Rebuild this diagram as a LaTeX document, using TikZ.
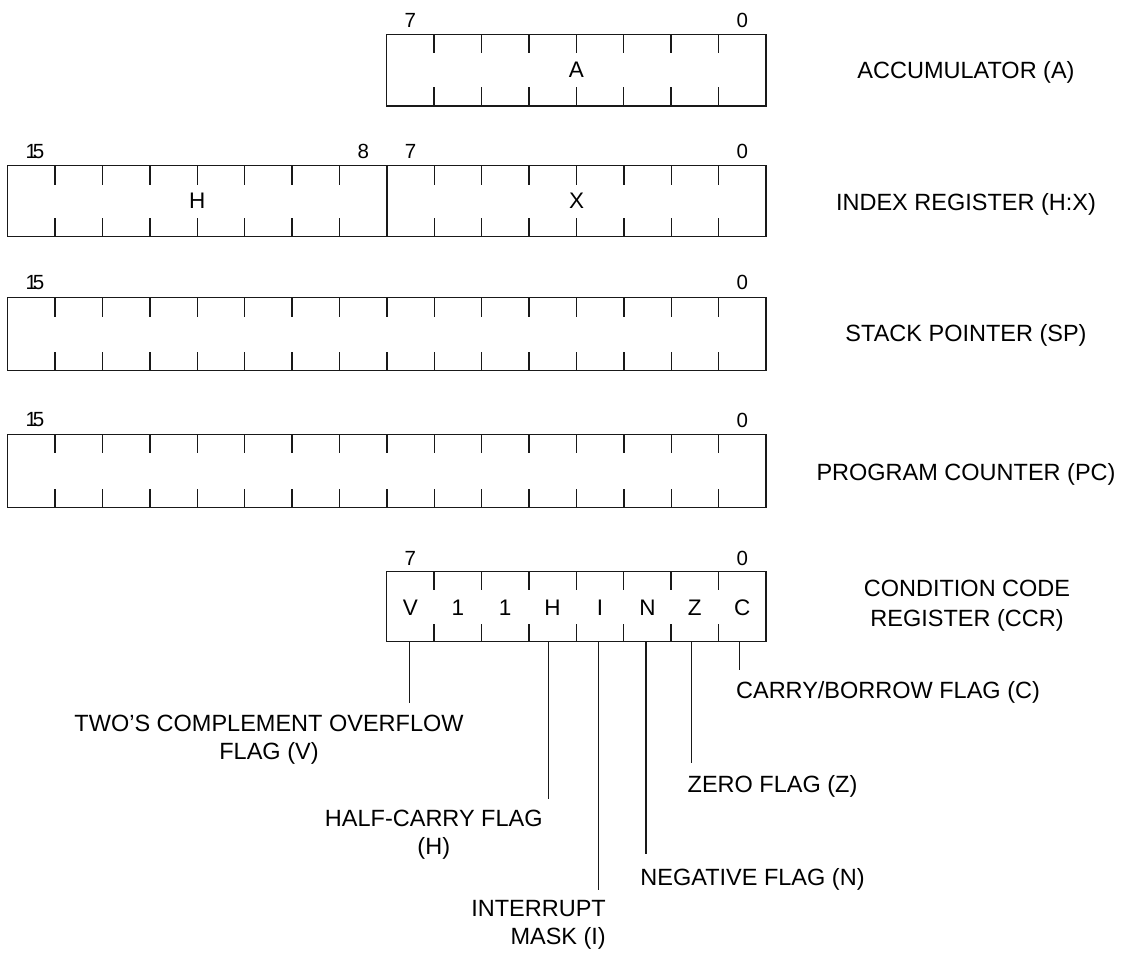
\documentclass[tikz,border=0pt]{standalone}
\usepackage{fontspec}
\setmainfont{Liberation Sans}
\begin{document}
\begin{tikzpicture}[x=1pt,y=-1pt,
  reg/.style={draw=black!90, line width=1.3pt, rectangle, inner sep=0pt, outer sep=0pt, anchor=north west},
  tickline/.style={draw=black!90, line width=1.3pt},
  bitnum/.style={font=\fontsize{20.5}{24}\selectfont, inner sep=0pt, text=black},
  field/.style={font=\fontsize{22.5}{26}\selectfont, inner sep=0pt, text=black},
  lbl/.style={font=\fontsize{23.5}{30}\selectfont, inner sep=0pt, align=center, anchor=north, text=black},
  flaglbl/.style={font=\fontsize{23.5}{28.4}\selectfont, inner xsep=0pt, align=center, anchor=north, text=black},
  leader/.style={draw=black!90, line width=1.3pt}]
\useasboundingbox (0,0) rectangle (1123,953);

% ---------------- Accumulator
\node[reg, minimum width=379.3pt, minimum height=71.7pt] (acc) at (386.7,34.3) {};
\foreach \i in {1,...,7} {
  \draw[tickline] ([xshift=\i*47.4pt]acc.north west) -- ++(0,19);
  \draw[tickline] ([xshift=\i*47.4pt]acc.south west) -- ++(0,-19);
}
\node[field] (accA) at (acc.center) {A};
\node[bitnum] (acc7) at ([xshift=23.7pt, yshift=14pt]acc.north west) {7};
\node[bitnum] (acc0) at ([xshift=-23.7pt, yshift=14pt]acc.north east) {0};
\node[lbl] (accl) at (966,61.6) {ACCUMULATOR (A)};

% ---------------- Index register H:X
\node[reg, minimum width=758.4pt, minimum height=71pt] (hx) at (7.7,165.7) {};
\foreach \i in {1,...,7,9,10,...,15} {
  \draw[tickline] ([xshift=\i*47.4pt]hx.north west) -- ++(0,19);
  \draw[tickline] ([xshift=\i*47.4pt]hx.south west) -- ++(0,-19);
}
\draw[tickline] ([xshift=379.2pt]hx.north west) -- ([xshift=379.2pt]hx.south west);
\node[field] (hxH) at ([xshift=189.6pt]hx.west) {H};
\node[field] (hxX) at ([xshift=-189.6pt]hx.east) {X};
\node[bitnum] (hx15) at ([xshift=27.3pt, yshift=14pt]hx.north west) {1\kern-0.2em5};
\node[bitnum] (hx8) at ([xshift=355.5pt, yshift=14pt]hx.north west) {8};
\node[bitnum] (hx7) at ([xshift=402.9pt, yshift=14pt]hx.north west) {7};
\node[bitnum] (hx0) at ([xshift=-23.7pt, yshift=14pt]hx.north east) {0};
\node[lbl] (hxl) at (966,193.3) {INDEX REGISTER (H:X)};

% ---------------- Stack pointer
\node[reg, minimum width=758.4pt, minimum height=73pt] (sp) at (7.7,297.7) {};
\foreach \i in {1,...,15} {
  \draw[tickline] ([xshift=\i*47.4pt]sp.north west) -- ++(0,19);
  \draw[tickline] ([xshift=\i*47.4pt]sp.south west) -- ++(0,-19);
}
\node[bitnum] (sp15) at ([xshift=27.3pt, yshift=15pt]sp.north west) {1\kern-0.2em5};
\node[bitnum] (sp0) at ([xshift=-23.7pt, yshift=15pt]sp.north east) {0};
\node[lbl] (spl) at (966,324.6) {STACK POINTER (SP)};

% ---------------- Program counter
\node[reg, minimum width=758.4pt, minimum height=73.4pt] (pc) at (7.7,434.3) {};
\foreach \i in {1,...,15} {
  \draw[tickline] ([xshift=\i*47.4pt]pc.north west) -- ++(0,19);
  \draw[tickline] ([xshift=\i*47.4pt]pc.south west) -- ++(0,-19);
}
\node[bitnum] (pc15) at ([xshift=27.3pt, yshift=14.3pt]pc.north west) {1\kern-0.2em5};
\node[bitnum] (pc0) at ([xshift=-23.7pt, yshift=14.3pt]pc.north east) {0};
\node[lbl] (pcl) at (966,463.3) {PROGRAM COUNTER (PC)};

% ---------------- Condition code register
\node[reg, minimum width=379.3pt, minimum height=70pt] (ccr) at (386.7,571.7) {};
\foreach \i in {1,...,7} {
  \draw[tickline] ([xshift=\i*47.4pt]ccr.north west) -- ++(0,18);
  \draw[tickline] ([xshift=\i*47.4pt]ccr.south west) -- ++(0,-18);
}
\foreach \t [count=\k from 0] in {V,1,1,H,I,N,Z,C} {
  \node[field] (ccrf\k) at ([xshift=23.7pt+\k*47.4pt, yshift=-1pt]ccr.west) {\t};
}
\node[bitnum] (ccr7) at ([xshift=23.7pt, yshift=13.4pt]ccr.north west) {7};
\node[bitnum] (ccr0) at ([xshift=-23.7pt, yshift=13.4pt]ccr.north east) {0};
\node[lbl] (ccrl) at (967,579.9) {CONDITION CODE\\REGISTER (CCR)};

% ---------------- Flag labels
\node[flaglbl, inner ysep=11.9pt] (vlab) at (269,703) {TWO’S COMPLEMENT OVERFLOW\\FLAG (V)};
\node[flaglbl, inner ysep=10.6pt] (hlab) at (433.8,799.3) {HALF-CARRY FLAG\\(H)};
\node[flaglbl, inner ysep=9.9pt, align=right, anchor=north east] (ilab) at (606,890) {INTERRUPT\\MASK (I)};
\node[flaglbl, inner ysep=14.3pt] (nlab) at (752.5,854) {NEGATIVE FLAG (N)};
\node[flaglbl, inner ysep=12.3pt] (zlab) at (772.5,763.3) {ZERO FLAG (Z)};
\node[flaglbl, inner ysep=11.6pt] (clab) at (888,670) {CARRY/BORROW FLAG (C)};

% ---------------- Leader lines
\coordinate (vx) at (409.3,0);
\coordinate (hx2) at (548.3,0);
\coordinate (ix) at (598.3,0);
\coordinate (nx) at (646,0);
\coordinate (zx) at (691.7,0);
\coordinate (cx) at (739.3,0);
\draw[leader] (ccr.south -| vx) -- (vx |- vlab.north);
\draw[leader] (ccr.south -| hx2) -- (hx2 |- hlab.north);
\draw[leader] (ccr.south -| ix) -- (ix |- ilab.north);
\draw[leader] (ccr.south -| nx) -- (nx |- nlab.north);
\draw[leader] (ccr.south -| zx) -- (zx |- zlab.north);
\draw[leader] (ccr.south -| cx) -- (cx |- clab.north);
\end{tikzpicture}
\end{document}
